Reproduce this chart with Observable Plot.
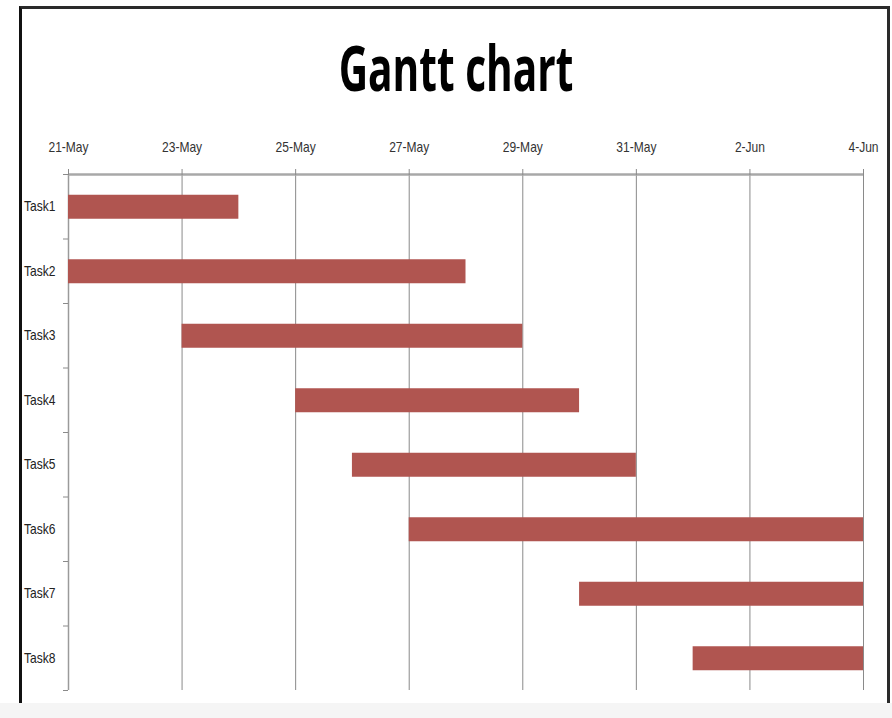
<!DOCTYPE html>
<html>
<head>
<meta charset="utf-8">
<script src="https://cdn.jsdelivr.net/npm/d3@7"></script>
<script src="https://cdn.jsdelivr.net/npm/@observablehq/plot@0.6"></script>
<style>
  html, body { margin: 0; padding: 0; background: #ffffff; width: 892px; height: 718px; overflow: hidden; }
  #frame { position: absolute; left: 19px; top: 6px; width: 871px; height: 697px; box-sizing: border-box;
           border-left: 3px solid #111; border-top: 3px solid #2a2a2a; border-right: 3px solid #2a2a2a; background: #fff; }
  #bottom { position: absolute; left: 0; top: 703px; width: 892px; height: 15px; background: #f5f5f5; }
  #title { position: absolute; left: 456px; top: 35px; font: 700 63px "Open Sans", "Liberation Sans", sans-serif;
           line-height: 1; white-space: nowrap; color: #000;
           transform: translateX(-50%) scaleX(0.645); transform-origin: center; }
  #chart { position: absolute; left: 0; top: 120px; }
</style>
</head>
<body>
<div id="frame"></div>
<div id="bottom"></div>
<div id="title">Gantt chart</div>
<div id="chart"></div>
<script>
const tasks = ["Task1", "Task2", "Task3", "Task4", "Task5", "Task6", "Task7", "Task8"];
const startDates = ["2023-05-21", "2023-05-21", "2023-05-23", "2023-05-25", "2023-05-26", "2023-05-27", "2023-05-30", "2023-06-01"];
const endDates = ["2023-05-24", "2023-05-28", "2023-05-29", "2023-05-30", "2023-05-31", "2023-06-04", "2023-06-04", "2023-06-04"];
const tickDates = ["2023-05-21", "2023-05-23", "2023-05-25", "2023-05-27", "2023-05-29", "2023-05-31", "2023-06-02", "2023-06-04"];

const parse = d3.utcParse("%Y-%m-%d");
const ticks = tickDates.map(parse);
const data = tasks.map((t, i) => ({task: t, pos: i + 0.5, start: parse(startDates[i]), end: parse(endDates[i])}));

const plot = Plot.plot({
  width: 892,
  height: 580,
  marginTop: 54,
  marginBottom: 10,
  marginLeft: 68,
  marginRight: 29,
  style: {fontFamily: '"Liberation Sans Narrow", "Liberation Sans", sans-serif', fontSize: "14px", color: "#222", background: "transparent"},
  x: {type: "utc", domain: [ticks[0], ticks[ticks.length - 1]]},
  y: {domain: [0, tasks.length], reverse: true},
  marks: [
    Plot.gridX(ticks, {stroke: "#8a8a8a", strokeOpacity: 1}),
    Plot.ruleX([ticks[0]], {stroke: "#9a9a9a", strokeWidth: 1.5}),
    Plot.axisY(d3.range(tasks.length + 1), {tickSize: 5, tickFormat: () => "", stroke: "#8a8a8a", label: null}),
    Plot.axisY(data.map(d => d.pos), {tickSize: 0, tickPadding: 13, tickFormat: v => tasks[Math.floor(v)], label: null, fill: "#222"}),
    Plot.ruleY(data, {y: "pos", x1: "start", x2: "end", stroke: "#b05550", strokeWidth: 24}),
    Plot.ruleY([0], {stroke: "#a8a8a8", strokeWidth: 2.5}),
    Plot.axisX(ticks, {anchor: "top", tickSize: 6, tickPadding: 17, tickFormat: d3.utcFormat("%-d-%b"), stroke: "#8a8a8a", label: null, fill: "#333"})
  ]
});
// narrow the tick label glyphs around their anchor point (Calibri-like proportions)
d3.select(plot).selectAll('g[aria-label="x-axis tick label"] text, g[aria-label="y-axis tick label"] text')
  .attr("transform", function () { return (this.getAttribute("transform") || "") + " scale(0.86,1)"; });
document.getElementById("chart").appendChild(plot);
</script>
</body>
</html>
